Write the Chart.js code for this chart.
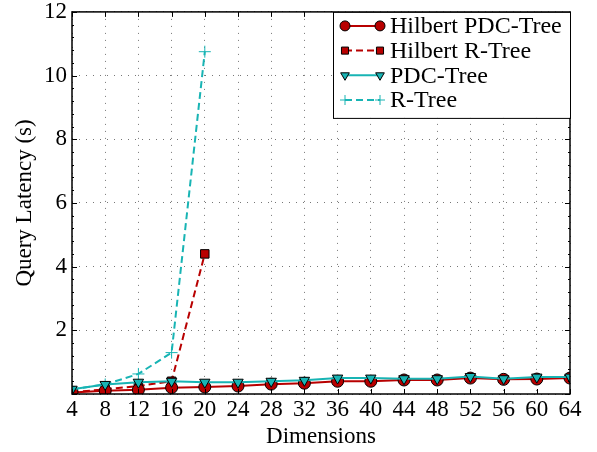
<!DOCTYPE html>
<html>
<head>
<meta charset="utf-8">
<script src="https://cdn.jsdelivr.net/npm/chart.js@4.4.0/dist/chart.umd.min.js"></script>
<style>
  body { margin: 0; background: #fff; }
  #wrap { width: 597px; height: 452px; }
</style>
</head>
<body>
<div id="wrap"><canvas id="grafico" width="597" height="452"></canvas></div>
<script>
// --- datos ---
const dimensiones = [4, 8, 12, 16, 20, 24, 28, 32, 36, 40, 44, 48, 52, 56, 60, 64];
const dimsCortas = [4, 8, 12, 16, 20];

const hilbertPdc = [0.05, 0.1, 0.13, 0.2, 0.22, 0.25, 0.31, 0.34, 0.4, 0.4, 0.44, 0.44, 0.5, 0.46, 0.47, 0.5];
const hilbertRTree = [0.05, 0.15, 0.25, 0.4, 4.4];
const pdcTree = [0.15, 0.3, 0.37, 0.4, 0.37, 0.37, 0.4, 0.43, 0.5, 0.5, 0.48, 0.48, 0.55, 0.48, 0.53, 0.53];
const rTree = [0.15, 0.3, 0.63, 1.3, 10.75];

const ticksX = [4, 8, 12, 16, 20, 24, 28, 32, 36, 40, 44, 48, 52, 56, 60, 64];

const ROJO = '#b80000';
const CIAN = '#18b4b4';
const FUENTE = '"Liberation Serif", "DejaVu Serif", serif';

function puntos(xs, ys) {
    return xs.map((x, i) => ({ x: x, y: ys[i] }));
}

// marco, ticks hacia dentro y leyenda estilo matplotlib
const marcoPlugin = {
    id: 'marco',
    afterDraw(chart) {
        const ctx = chart.ctx;
        const a = chart.chartArea;
        const sx = chart.scales.x, sy = chart.scales.y;
        ctx.save();
        ctx.strokeStyle = '#000';
        ctx.lineWidth = 1;
        // ticks
        ctx.beginPath();
        ticksX.forEach(v => {
            const px = Math.round(sx.getPixelForValue(v)) + 0.5;
            ctx.moveTo(px, a.bottom); ctx.lineTo(px, a.bottom - 5);
            ctx.moveTo(px, a.top); ctx.lineTo(px, a.top + 5);
        });
        for (let v = 0; v <= 12; v += 2) {
            const py = Math.round(sy.getPixelForValue(v)) + 0.5;
            ctx.moveTo(a.left, py); ctx.lineTo(a.left + 5, py);
            ctx.moveTo(a.right, py); ctx.lineTo(a.right - 5, py);
        }
        for (let v = 0; v <= 12; v += 0.4) {
            const py = Math.round(sy.getPixelForValue(v)) + 0.5;
            ctx.moveTo(a.left, py); ctx.lineTo(a.left + 2, py);
            ctx.moveTo(a.right, py); ctx.lineTo(a.right - 2, py);
        }
        ctx.stroke();
        ctx.lineWidth = 1.5;
        ctx.strokeRect(a.left, a.top, a.right - a.left, a.bottom - a.top);

        // leyenda
        const bx = 333, by = a.top, bw = a.right - 333, bh = 106;
        ctx.fillStyle = '#fff';
        ctx.fillRect(bx, by, bw, bh);
        ctx.lineWidth = 1;
        ctx.strokeStyle = '#000';
        ctx.strokeRect(bx + 0.5, by + 0.5, bw, bh);
        ctx.font = '24px ' + FUENTE;
        ctx.textBaseline = 'middle';
        chart.data.datasets.forEach((ds, i) => {
            const y = by + 14 + i * 24.7;
            const x0 = 345, x1 = 380;
            ctx.strokeStyle = ds.borderColor;
            ctx.lineWidth = ds.borderWidth;
            ctx.setLineDash(ds.borderDash || []);
            ctx.beginPath(); ctx.moveTo(x0, y); ctx.lineTo(x1, y); ctx.stroke();
            ctx.setLineDash([]);
            [x0, x1].forEach(px => {
                ctx.fillStyle = ds.pointBackgroundColor;
                ctx.strokeStyle = ds.pointBorderColor;
                ctx.lineWidth = ds.pointBorderWidth;
                Chart.helpers.drawPoint(ctx, {
                    pointStyle: ds.pointStyle,
                    rotation: ds.pointRotation || 0,
                    radius: 5,
                    borderWidth: ds.pointBorderWidth
                }, px, y);
            });
            ctx.fillStyle = '#000';
            ctx.fillText(ds.label, 390, y + 1);
        });
        ctx.restore();
    }
};

const ctx = document.getElementById('grafico').getContext('2d');
new Chart(ctx, {
    type: 'line',
    data: {
        datasets: [
            {
                label: 'Hilbert PDC-Tree',
                data: puntos(dimensiones, hilbertPdc),
                borderColor: ROJO, borderWidth: 2,
                pointStyle: 'circle', pointRadius: 6,
                pointBackgroundColor: ROJO, pointBorderColor: '#000', pointBorderWidth: 1,
                order: 1
            },
            {
                label: 'Hilbert R-Tree',
                data: puntos(dimsCortas, hilbertRTree),
                borderColor: ROJO, borderWidth: 2, borderDash: [7, 4],
                pointStyle: 'rect', pointRadius: 6,
                pointBackgroundColor: ROJO, pointBorderColor: '#000', pointBorderWidth: 1,
                order: 2
            },
            {
                label: 'PDC-Tree',
                data: puntos(dimensiones, pdcTree),
                borderColor: CIAN, borderWidth: 2,
                pointStyle: 'triangle', pointRotation: 180, pointRadius: 6,
                pointBackgroundColor: CIAN, pointBorderColor: '#000', pointBorderWidth: 1,
                order: 0
            },
            {
                label: 'R-Tree',
                data: puntos(dimsCortas, rTree),
                borderColor: CIAN, borderWidth: 2, borderDash: [7, 4],
                pointStyle: 'cross', pointRadius: 6,
                pointBackgroundColor: CIAN, pointBorderColor: CIAN, pointBorderWidth: 1,
                order: 3
            }
        ]
    },
    options: {
        responsive: false,
        animation: false,
        layout: { padding: { top: 0, right: 27, left: 13, bottom: 4 } },
        plugins: { legend: { display: false }, tooltip: { enabled: false } },
        elements: { line: { tension: 0 } },
        scales: {
            x: {
                type: 'linear', min: 4, max: 64,
                afterBuildTicks: s => { s.ticks = ticksX.map(v => ({ value: v })); },
                grid: { color: '#777', lineWidth: 1, drawTicks: false },
                border: { display: false, dash: [1, 6] },
                ticks: { color: '#000', font: { family: FUENTE, size: 23, lineHeight: 1 }, padding: 4, maxRotation: 0 },
                title: { display: true, text: 'Dimensions', color: '#000', font: { family: FUENTE, size: 23, lineHeight: 1 }, padding: { top: 0, bottom: 0 } }
            },
            y: {
                min: 0, max: 12,
                ticks: {
                    stepSize: 2, color: '#000', font: { family: FUENTE, size: 23, lineHeight: 0.6 }, padding: 5,
                    callback: v => v === 0 ? '' : v
                },
                grid: { color: '#777', lineWidth: 1, drawTicks: false },
                border: { display: false, dash: [1, 6] },
                title: { display: true, text: 'Query Latency (s)', color: '#000', font: { family: FUENTE, size: 23, lineHeight: 1 }, padding: { top: 0, bottom: 3 } }
            }
        }
    },
    plugins: [marcoPlugin]
});
</script>
</body>
</html>
